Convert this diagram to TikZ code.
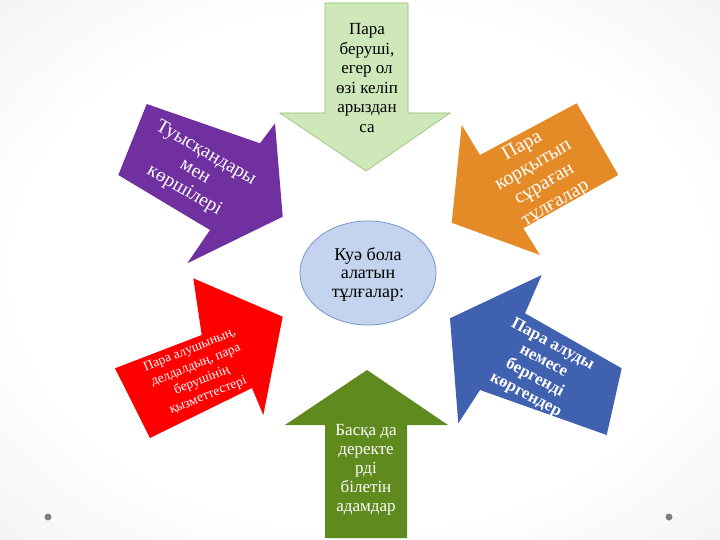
\documentclass[tikz,border=0pt]{standalone}
\usepackage{fontspec}
\setmainfont{Liberation Serif}
\definecolor{lgreen}{RGB}{206,232,186}
\definecolor{lgreenline}{RGB}{150,190,110}
\definecolor{purp}{RGB}{112,48,160}
\definecolor{orng}{RGB}{228,138,38}
\definecolor{redd}{RGB}{255,0,0}
\definecolor{bluu}{RGB}{64,96,176}
\definecolor{dgreen}{RGB}{95,139,30}
\definecolor{ellfill}{RGB}{196,211,238}
\definecolor{ellline}{RGB}{120,150,205}
\pgfdeclareradialshading{bgshade}{\pgfpoint{0bp}{0bp}}{%
  color(0bp)=(white); color(24bp)=(white); color(40bp)=(black!6);
  color(50bp)=(black!13); color(72bp)=(black!16)}
\tikzset{
  arrowshape/.style={line join=miter},
  lbl/.style={align=center, inner sep=0pt},
}
\begin{document}
\begin{tikzpicture}[x=1pt,y=-1pt]
\useasboundingbox (0,0) rectangle (720,540);
\shade[shading=bgshade] (0,0) rectangle (720,540);
% corner dots
\fill[black!50] (48,517) circle (3.5);
\fill[black!50] (669,517) circle (3.5);
% top arrow
\filldraw[arrowshape, fill=lgreen, draw=lgreenline, line width=0.6pt]
  (325,3) -- (408,3) -- (408,113) -- (450,113) -- (366,171) -- (280,113) -- (325,113) -- cycle;
\node[lbl, font=\fontsize{17}{19.5}\selectfont] (ttop) at (367,78) {Пара\\беруші,\\егер ол\\өзі келіп\\арыздан\\са};
% bottom arrow
\fill[arrowshape, dgreen]
  (367,370) -- (448,425) -- (407,425) -- (407,538) -- (325,538) -- (325,425) -- (285,425) -- cycle;
\node[lbl, white, font=\fontsize{17}{19}\selectfont] (tbot) at (366,470) {Басқа да\\деректе\\рді\\білетін\\адамдар};
% purple arrow
\fill[arrowshape, purp]
  (146.7,104) -- (260,143.3) -- (275,123.3) -- (282.7,216.7) -- (187.3,263.3) -- (210,230) -- (118.3,175) -- cycle;
\node[lbl, white, rotate=-30, font=\fontsize{19.5}{21.5}\selectfont] (tpur) at (195,172) {Туысқандары\\мен\\көршілері};
% orange arrow
\fill[arrowshape, orng]
  (451.7,222.7) -- (461.7,125) -- (480,155) -- (576.7,103.3) -- (618.3,175) -- (523.3,228.3) -- (540,255) -- cycle;
\node[lbl, white, rotate=30, font=\fontsize{20}{22}\selectfont] (tor) at (539,175) {Пара\\корқытып\\сұраған\\тұлғалар};
% red arrow
\fill[arrowshape, redd]
  (115,368.3) -- (201.7,335) -- (193.3,278.3) -- (282.7,316.7) -- (263.3,415) -- (252,388) -- (150,438) -- cycle;
\node[lbl, white, rotate=22, font=\fontsize{13.5}{16.4}\selectfont] (tred) at (199,373) {Пара алушының,\\делдалдың, пара\\берушінің\\қызметтестері};
% blue arrow
\fill[arrowshape, bluu]
  (450,318.3) -- (541.7,275) -- (525,313.3) -- (621.7,368.3) -- (606.7,435) -- (480,390) -- (458.3,423.3) -- cycle;
\node[lbl, white, rotate=-28, font=\bfseries\fontsize{17}{19}\selectfont] (tblu) at (539,370) {Пара алуды\\немесе\\бергенді\\көргендер};
% center ellipse
\filldraw[fill=ellfill, draw=ellline, line width=0.8pt] (368,273) ellipse (68 and 52);
\node[lbl, font=\fontsize{18}{18.5}\selectfont] (tcen) at (368,274) {Куә бола\\алатын\\тұлғалар:};
\end{tikzpicture}
\end{document}
